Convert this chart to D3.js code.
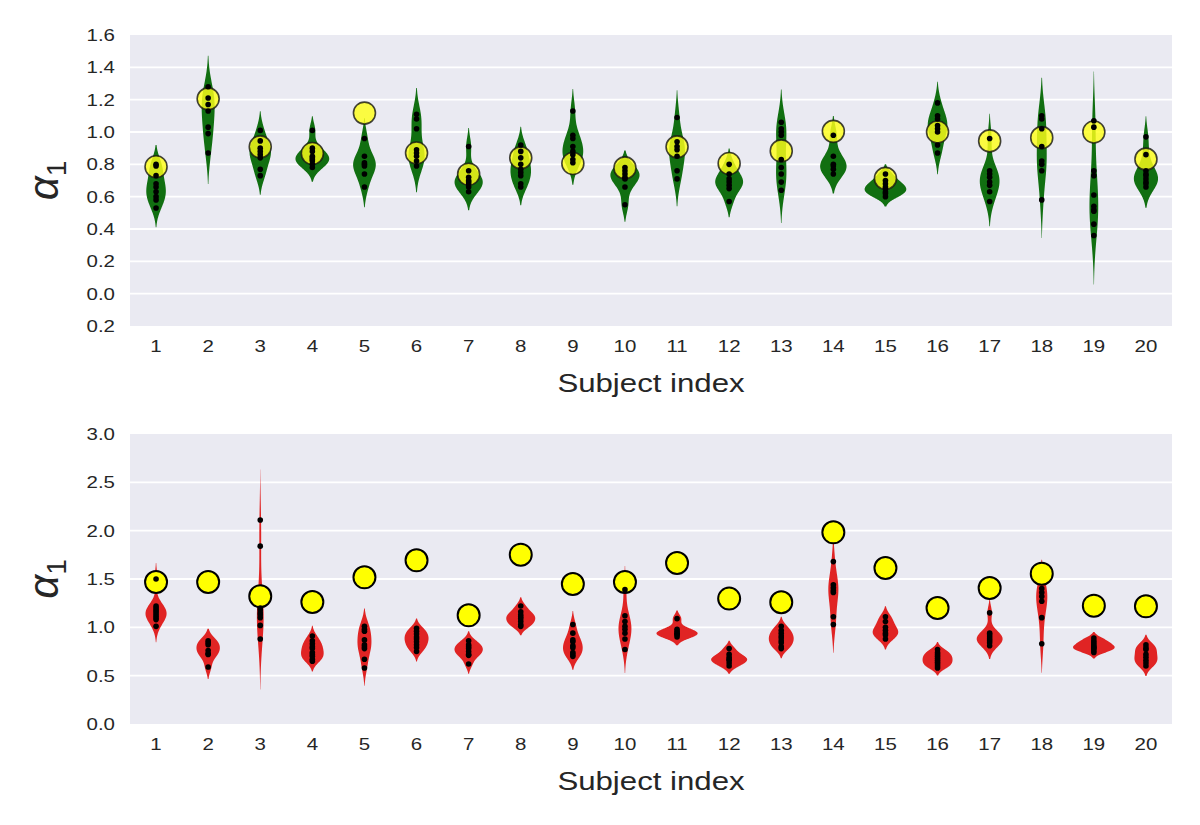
<!DOCTYPE html>
<html>
<head>
<meta charset="utf-8">
<script src="https://cdn.jsdelivr.net/npm/d3@7"></script>
<style>
  body { margin: 0; background: #fff; }
  text { font-family: "Liberation Sans", Arial, sans-serif; fill: #262626; }
</style>
</head>
<body>
<div id="chart"></div>
<script>
// subjects on the x axis
const subjects = d3.range(1, 21).map(String);

// top panel: estimated samples per subject (black dots)
const topSamples = [
  [0.80, 0.79, 0.73, 0.68, 0.66, 0.63, 0.60, 0.58, 0.53],
  [1.28, 1.21, 1.17, 1.13, 1.03, 0.99, 0.87],
  [1.01, 0.945, 0.90, 0.88, 0.86, 0.84, 0.77, 0.73],
  [1.01, 0.90, 0.88, 0.85, 0.84, 0.83, 0.82, 0.80, 0.78],
  [0.96, 0.85, 0.81, 0.80, 0.79, 0.74, 0.66],
  [1.11, 1.08, 1.02, 0.89, 0.87, 0.85, 0.82, 0.79],
  [0.91, 0.76, 0.72, 0.70, 0.69, 0.68, 0.66, 0.63],
  [0.92, 0.88, 0.84, 0.80, 0.77, 0.75, 0.73, 0.68, 0.66],
  [1.13, 0.98, 0.96, 0.91, 0.88, 0.86, 0.83, 0.81],
  [0.78, 0.76, 0.74, 0.72, 0.71, 0.66, 0.55],
  [1.09, 0.94, 0.91, 0.89, 0.85, 0.76, 0.71],
  [0.80, 0.74, 0.71, 0.69, 0.67, 0.65, 0.57],
  [1.06, 1.02, 1.00, 0.98, 0.83, 0.78, 0.74, 0.69, 0.64],
  [0.98, 0.85, 0.80, 0.79, 0.77, 0.74],
  [0.74, 0.70, 0.68, 0.66, 0.65, 0.63, 0.62, 0.60],
  [1.18, 1.10, 1.08, 1.04, 1.02, 1.00, 0.92, 0.87],
  [0.96, 0.76, 0.74, 0.72, 0.69, 0.67, 0.63, 0.57],
  [1.10, 1.08, 1.02, 0.91, 0.82, 0.80, 0.76, 0.58],
  [1.07, 1.03, 0.76, 0.73, 0.61, 0.54, 0.52, 0.51, 0.43, 0.36],
  [0.97, 0.86, 0.76, 0.74, 0.73, 0.71, 0.69, 0.68, 0.66]
];
// top panel: reference values (yellow circles)
const topTruth = [0.785, 1.205, 0.908, 0.867, 1.117, 0.87, 0.739, 0.84, 0.805, 0.778,
                  0.908, 0.805, 0.883, 1.004, 0.713, 1.0, 0.945, 0.965, 1.0, 0.832];

// bottom panel: estimated samples per subject
const bottomSamples = [
  [1.50, 1.22, 1.20, 1.18, 1.16, 1.14, 1.12, 1.10, 1.08, 1.01],
  [0.86, 0.84, 0.82, 0.76, 0.73, 0.72, 0.59],
  [2.11, 1.84, 1.20, 1.18, 1.15, 1.13, 1.10, 1.02, 0.88],
  [0.91, 0.86, 0.83, 0.80, 0.78, 0.74, 0.72, 0.70, 0.67, 0.65],
  [1.01, 0.98, 0.96, 0.87, 0.82, 0.80, 0.78, 0.67, 0.58],
  [0.99, 0.96, 0.93, 0.90, 0.88, 0.85, 0.82, 0.79, 0.75],
  [0.86, 0.82, 0.80, 0.78, 0.75, 0.72, 0.71, 0.62],
  [1.22, 1.16, 1.13, 1.11, 1.09, 1.06, 1.03, 1.01],
  [1.03, 0.94, 0.87, 0.85, 0.81, 0.79, 0.74, 0.72, 0.70],
  [1.39, 1.12, 1.06, 1.01, 0.98, 0.94, 0.88, 0.77],
  [1.09, 0.98, 0.96, 0.94, 0.93, 0.92, 0.90],
  [0.78, 0.72, 0.69, 0.67, 0.66, 0.63, 0.60],
  [1.01, 0.97, 0.94, 0.91, 0.89, 0.86, 0.84, 0.80, 0.78],
  [1.68, 1.44, 1.41, 1.38, 1.36, 1.11, 1.03],
  [1.11, 1.06, 1.00, 0.97, 0.94, 0.92, 0.88],
  [0.77, 0.74, 0.72, 0.70, 0.68, 0.66, 0.64, 0.62, 0.60, 0.58],
  [1.15, 0.94, 0.92, 0.90, 0.88, 0.86, 0.84, 0.81],
  [1.40, 1.36, 1.32, 1.27, 1.10, 0.83],
  [0.89, 0.86, 0.84, 0.82, 0.80, 0.79, 0.78, 0.76, 0.74],
  [0.82, 0.79, 0.77, 0.72, 0.69, 0.66, 0.63, 0.60]
];
const bottomTruth = [1.469, 1.469, 1.321, 1.262, 1.517, 1.693, 1.124, 1.752, 1.448, 1.469,
                     1.666, 1.297, 1.259, 1.983, 1.614, 1.2, 1.407, 1.555, 1.224, 1.217];

// tick labels as printed (the minus sign of the lowest top tick is missing in the original)
const topTickValues = [-0.2, 0.0, 0.2, 0.4, 0.6, 0.8, 1.0, 1.2, 1.4, 1.6];
const topTickLabels = ["0.2", "0.0", "0.2", "0.4", "0.6", "0.8", "1.0", "1.2", "1.4", "1.6"];
const bottomTickValues = [0.0, 0.5, 1.0, 1.5, 2.0, 2.5, 3.0];
const bottomTickLabels = ["0.0", "0.5", "1.0", "1.5", "2.0", "2.5", "3.0"];

const W = 1200, H = 825;
const SX = 1.19; // the original picture is stretched horizontally, text too
const svg = d3.select("#chart").append("svg")
  .attr("width", W).attr("height", H);

// gaussian kde like scipy (scott's rule), cut = 2
function kde(values) {
  const n = values.length;
  const sd = d3.deviation(values);
  const bw = sd * Math.pow(n, -1 / 5);
  const lo = d3.min(values) - 2 * bw, hi = d3.max(values) + 2 * bw;
  const pts = d3.range(0, 101).map(i => lo + (hi - lo) * i / 100);
  const norm = 1 / (n * bw * Math.sqrt(2 * Math.PI));
  return pts.map(v => ({
    v: v,
    d: norm * d3.sum(values, xi => Math.exp(-0.5 * ((v - xi) / bw) ** 2))
  }));
}

function drawPanel(opts) {
  const { top, bottom, left, right, domain, tickValues, tickLabels,
          samples, truth, violinColor, circleFill, circleOpacity, circleStroke, circleStrokeW } = opts;

  const g = svg.append("g");
  const x = d3.scaleBand().domain(subjects).range([left, right]);
  const y = d3.scaleLinear().domain(domain).range([bottom, top]);

  g.append("rect")
    .attr("x", left).attr("y", top)
    .attr("width", right - left).attr("height", bottom - top)
    .attr("fill", "#eaeaf2");

  // horizontal grid
  g.append("g").selectAll("line")
    .data(tickValues.filter(t => t > domain[0] && t < domain[1]))
    .enter().append("line")
    .attr("x1", left).attr("x2", right)
    .attr("y1", d => y(d)).attr("y2", d => y(d))
    .attr("stroke", "#fff").attr("stroke-width", 1.8);

  // y axis labels
  const yAxis = d3.axisLeft(y).tickValues(tickValues)
    .tickFormat((d, i) => tickLabels[i]).tickSize(0).tickPadding(0);
  const ya = g.append("g").attr("transform", `translate(${left},0)`).call(yAxis);
  ya.select(".domain").remove();
  ya.selectAll("text").attr("font-size", 17.2).attr("fill", "#262626")
    .attr("x", 0).attr("transform", `translate(-15,0) scale(${SX},1)`);

  // x axis labels
  const xAxis = d3.axisBottom(x).tickSize(0).tickPadding(0);
  const xa = g.append("g").attr("transform", `translate(0,${bottom})`).call(xAxis);
  xa.select(".domain").remove();
  xa.selectAll("text").attr("font-size", 17.2).attr("fill", "#262626")
    .attr("y", 0).attr("transform", `translate(0,14) scale(${SX},1)`);

  g.append("text")
    .attr("transform", `translate(${(left + right) / 2},${bottom + 66}) scale(1.2,1)`)
    .attr("text-anchor", "middle")
    .attr("font-size", 26)
    .text("Subject index");

  const ylab = g.append("text")
    .attr("transform", `translate(58,${(top + bottom) / 2}) rotate(-90)`)
    .attr("text-anchor", "middle")
    .attr("font-family", "DejaVu Serif, serif")
    .attr("font-size", 42);
  ylab.append("tspan").attr("font-style", "italic").text("α");
  ylab.append("tspan").attr("font-size", 28).attr("dy", 8).text("1");

  // violins (area scaling: same kde normalisation for every subject)
  const dens = samples.map(kde);
  const maxD = d3.max(dens, arr => d3.max(arr, p => p.d));
  const w = d3.scaleLinear().domain([0, maxD]).range([0, x.bandwidth() * 0.4]);

  g.append("g").selectAll("path")
    .data(dens)
    .enter().append("path")
    .attr("d", (arr, i) => {
      const cx = x(subjects[i]) + x.bandwidth() / 2;
      return d3.area()
        .y(p => y(p.v))
        .x0(p => cx - w(p.d))
        .x1(p => cx + w(p.d))(arr);
    })
    .attr("fill", violinColor);

  // reference circles
  g.append("g").selectAll("circle")
    .data(truth)
    .enter().append("circle")
    .attr("cx", (d, i) => x(subjects[i]) + x.bandwidth() / 2)
    .attr("cy", d => y(d))
    .attr("r", 11)
    .attr("fill", circleFill)
    .attr("fill-opacity", circleOpacity)
    .attr("stroke", circleStroke)
    .attr("stroke-width", circleStrokeW);

  // sample points
  const pts = [];
  samples.forEach((arr, i) => arr.forEach(v => pts.push({ s: subjects[i], v: v })));
  g.append("g").selectAll("circle")
    .data(pts)
    .enter().append("circle")
    .attr("cx", d => x(d.s) + x.bandwidth() / 2)
    .attr("cy", d => y(d.v))
    .attr("r", 2.8)
    .attr("fill", "#000");
}

drawPanel({
  top: 35, bottom: 326, left: 130, right: 1172,
  domain: [-0.2, 1.6], tickValues: topTickValues, tickLabels: topTickLabels,
  samples: topSamples, truth: topTruth,
  violinColor: "#116f11",
  circleFill: "#ffff1a", circleOpacity: 0.82, circleStroke: "rgba(20,20,20,0.8)", circleStrokeW: 1.6
});

drawPanel({
  top: 434, bottom: 724, left: 130, right: 1172,
  domain: [0, 3], tickValues: bottomTickValues, tickLabels: bottomTickLabels,
  samples: bottomSamples, truth: bottomTruth,
  violinColor: "#e02424",
  circleFill: "#ffff00", circleOpacity: 1, circleStroke: "#000", circleStrokeW: 2
});
</script>
</body>
</html>
